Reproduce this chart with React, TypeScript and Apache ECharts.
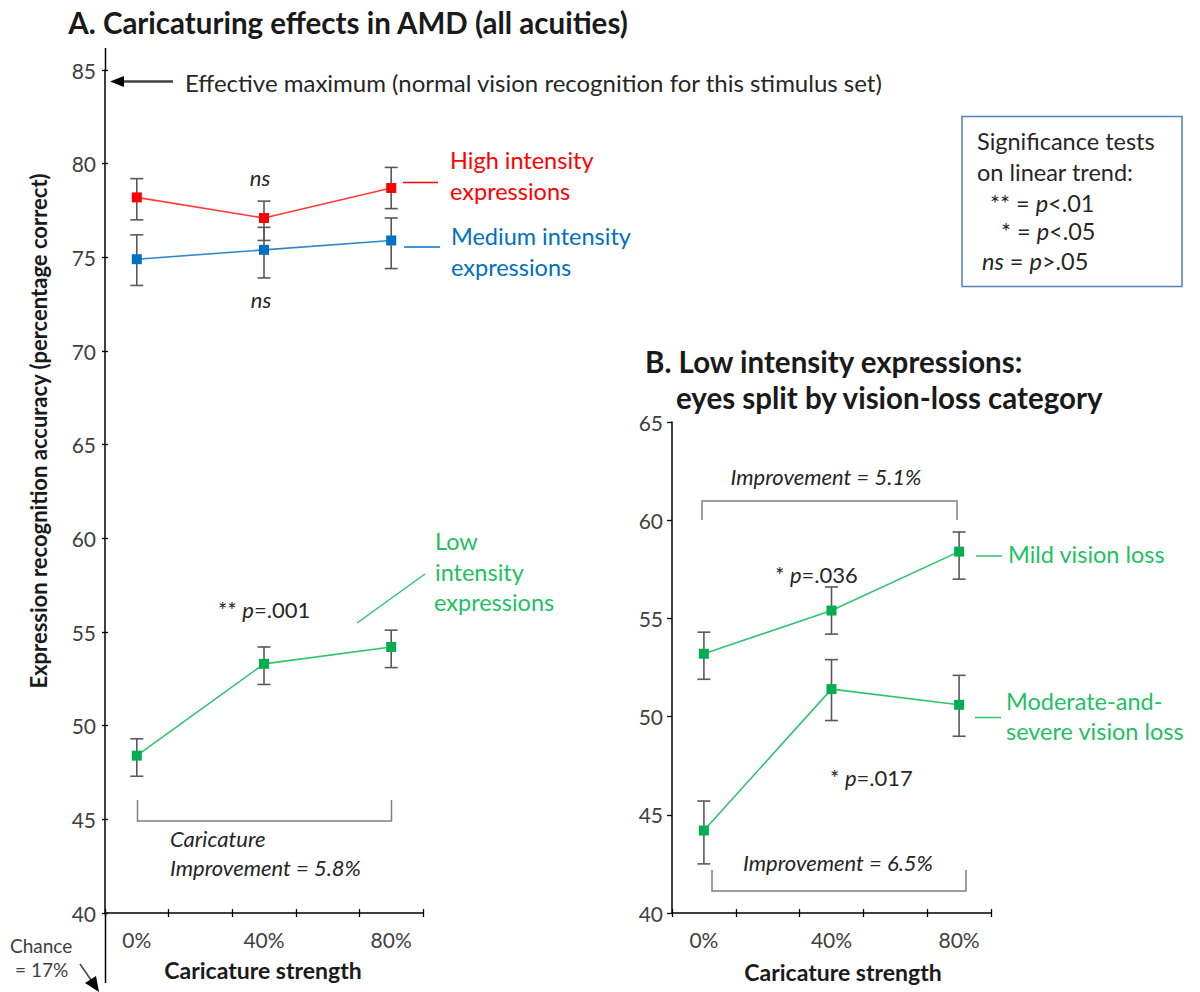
import React, { useEffect, useRef } from "react";
import * as echarts from "echarts";

// ---------- data ----------
const strengths = [0, 40, 80]; // caricature strength (%)
const xTickValues = [-10, 10, 30, 50, 70, 90];
const xLabelValues = [0, 40, 80];

// Panel A
const highMean = [78.2, 77.1, 78.7];
const highLower = [77.0, 75.9, 77.6];
const highUpper = [79.2, 78.0, 79.8];
const medMean = [74.9, 75.4, 75.9];
const medLower = [73.5, 73.9, 74.4];
const medUpper = [76.2, 76.6, 77.1];
const lowMean = [48.4, 53.3, 54.2];
const lowLower = [47.3, 52.2, 53.1];
const lowUpper = [49.3, 54.2, 55.1];

// Panel B
const mildMean = [53.2, 55.4, 58.4];
const mildLower = [51.9, 54.2, 57.0];
const mildUpper = [54.3, 56.6, 59.4];
const modMean = [44.2, 51.4, 50.6];
const modLower = [42.5, 49.8, 49.0];
const modUpper = [45.7, 52.9, 52.1];

const yA = { min: 40, max: 85, interval: 5 };
const yB = { min: 40, max: 65, interval: 5 };

const FONT = "Lato, 'Open Sans', sans-serif";
const RED = "#ff0000";
const BLUE = "#0070c0";
const GREEN = "#00b050";
const GREEN_LINE = "#2ec46e";
const GREEN_TEXT = "#1fc063";
const GREY = "#7f7f7f";
const ERR = "#595959";
const TXT = "#262626";

const S_TICK = 21;
const S_NOTE = 22;
const S_BODY = 23.5;
const S_TITLE = 29.5;
const S_AXNAME = 23;

function lineSeries(name: string, mean: number[], color: string, lineColor: string, ai: number) {
  return {
    name,
    type: "line",
    xAxisIndex: ai,
    yAxisIndex: ai,
    data: strengths.map((s, i) => [s, mean[i]]),
    symbol: "rect",
    symbolSize: 10,
    itemStyle: { color },
    lineStyle: { color: lineColor, width: 1.6 },
    z: 5,
    silent: true,
  };
}

function errSeries(name: string, lower: number[], upper: number[], ai: number) {
  return {
    name: name + " error",
    type: "custom",
    xAxisIndex: ai,
    yAxisIndex: ai,
    data: strengths.map((s, i) => [s, lower[i], upper[i]]),
    encode: { x: 0, y: [1, 2] },
    z: 3,
    silent: true,
    renderItem: (params: any, api: any) => {
      const x = api.value(0);
      const top = api.coord([x, api.value(2)]);
      const bot = api.coord([x, api.value(1)]);
      const hw = 6.5;
      const st = { stroke: ERR, lineWidth: 1.6 };
      return {
        type: "group",
        children: [
          { type: "line", shape: { x1: top[0], y1: top[1], x2: bot[0], y2: bot[1] }, style: st },
          { type: "line", shape: { x1: top[0] - hw, y1: top[1], x2: top[0] + hw, y2: top[1] }, style: st },
          { type: "line", shape: { x1: bot[0] - hw, y1: bot[1], x2: bot[0] + hw, y2: bot[1] }, style: st },
        ],
      };
    },
  };
}

function T(text: string, x: number, y: number, o: any = {}) {
  const size = o.size || S_NOTE;
  return {
    type: "text",
    x,
    y,
    rotation: o.rotation || 0,
    silent: true,
    style: {
      text,
      fill: o.fill || TXT,
      fontSize: size,
      fontFamily: FONT,
      fontWeight: o.weight || "normal",
      fontStyle: o.italic ? "italic" : "normal",
      align: o.align || "left",
      verticalAlign: "middle",
      rich: o.rich ? { i: { fontStyle: "italic", fontFamily: FONT, fontSize: size, fill: o.fill || TXT } } : undefined,
    },
  };
}

function L(x1: number, y1: number, x2: number, y2: number, stroke: string, lw = 1.5) {
  return { type: "line", silent: true, shape: { x1, y1, x2, y2 }, style: { stroke, lineWidth: lw } };
}

function PL(points: number[][], stroke: string, lw = 1.5) {
  return { type: "polyline", silent: true, shape: { points }, style: { stroke, lineWidth: lw, fill: null } };
}

export default function App() {
  const ref = useRef<HTMLDivElement>(null);
  useEffect(() => {
    if (!ref.current) return;
    const chart = echarts.init(ref.current, null, { renderer: "svg" });

    const xAxisBase = (gridIndex: number) => ({
      type: "value",
      gridIndex,
      position: "bottom",
      min: -10,
      max: 90,
      axisLine: { show: true, onZero: false, lineStyle: { color: "#000", width: 1.5 } },
      axisTick: { show: true, customValues: xTickValues, length: 4, lineStyle: { color: "#000", width: 1.3 } },
      axisLabel: {
        show: true,
        customValues: xLabelValues,
        formatter: (v: number) => v + "%",
        fontSize: S_TICK,
        fontFamily: FONT,
        color: "#404040",
        margin: 16,
      },
      splitLine: { show: false },
    });
    const xAxisInner = (gridIndex: number) => ({
      type: "value",
      gridIndex,
      position: "bottom",
      min: -10,
      max: 90,
      axisLine: { show: false, onZero: false },
      axisTick: { show: true, inside: true, customValues: xTickValues, length: 4, lineStyle: { color: "#000", width: 1.3 } },
      axisLabel: { show: false },
      splitLine: { show: false },
    });
    const yAxisBase = (gridIndex: number, r: any, tickLen: number) => ({
      type: "value",
      gridIndex,
      position: "left",
      min: r.min,
      max: r.max,
      interval: r.interval,
      axisLine: { show: true, onZero: false, lineStyle: { color: "#000", width: 1.5 } },
      axisTick: { show: true, length: tickLen, lineStyle: { color: "#000", width: 1.3 } },
      axisLabel: { fontSize: S_TICK, fontFamily: FONT, color: "#404040", margin: 9 },
      splitLine: { show: false },
    });

    const option: any = {
      animation: false,
      backgroundColor: "#fff",
      grid: [
        { left: 105, top: 70, right: 777, bottom: 79 },
        { left: 672, top: 422, right: 209, bottom: 79 },
      ],
      xAxis: [xAxisBase(0), xAxisBase(1), xAxisInner(0), xAxisInner(1)],
      yAxis: [
        yAxisBase(0, yA, 3),
        yAxisBase(1, yB, 5),
        {
          type: "value",
          gridIndex: 0,
          position: "left",
          min: yA.min,
          max: yA.max,
          interval: yA.interval,
          axisLine: { show: false, onZero: false },
          axisTick: { show: true, inside: true, length: 3, lineStyle: { color: "#000", width: 1.3 } },
          axisLabel: { show: false },
          splitLine: { show: false },
        },
      ],
      series: [
        errSeries("High intensity", highLower, highUpper, 0),
        errSeries("Medium intensity", medLower, medUpper, 0),
        errSeries("Low intensity", lowLower, lowUpper, 0),
        errSeries("Mild vision loss", mildLower, mildUpper, 1),
        errSeries("Moderate-and-severe vision loss", modLower, modUpper, 1),
        lineSeries("High intensity", highMean, RED, "#ff3b3b", 0),
        lineSeries("Medium intensity", medMean, BLUE, "#2f86cf", 0),
        lineSeries("Low intensity", lowMean, GREEN, GREEN_LINE, 0),
        lineSeries("Mild vision loss", mildMean, GREEN, GREEN_LINE, 1),
        lineSeries("Moderate-and-severe vision loss", modMean, GREEN, GREEN_LINE, 1),
      ],
      graphic: [
        // axis extensions (panel A)
        L(105.5, 48, 105.5, 70, "#000", 1.5),
        L(105.5, 913, 105.5, 983, "#000", 1.5),
        // Titles
        T("A. Caricaturing effects in AMD (all acuities)", 348, 22, { size: S_TITLE, weight: "bold", align: "center", fill: "#1a1a1a" }),
        T("B. Low intensity expressions:", 645, 361, { size: S_TITLE, weight: "bold", fill: "#1a1a1a" }),
        T("eyes split by vision-loss category", 676, 397, { size: S_TITLE, weight: "bold", fill: "#1a1a1a" }),
        // Y axis name panel A
        T("Expression recognition accuracy (percentage correct)", 38, 431, {
          size: 22,
          weight: "bold",
          align: "center",
          rotation: Math.PI / 2,
          fill: "#1a1a1a",
        }),
        // X axis names
        T("Caricature strength", 263, 970, { size: S_AXNAME, weight: "bold", align: "center", fill: "#1a1a1a" }),
        T("Caricature strength", 843, 972, { size: S_AXNAME, weight: "bold", align: "center", fill: "#1a1a1a" }),
        // Effective maximum arrow
        L(120, 81.5, 173, 81.5, "#404040", 2.5),
        { type: "polygon", silent: true, shape: { points: [[110, 81.5], [124, 76], [124, 87]] }, style: { fill: "#000" } },
        T("Effective maximum (normal vision recognition for this stimulus set)", 185, 82, { size: 24 }),
        // Chance
        T("Chance", 10, 945, { size: 19, fill: "#404040" }),
        T("= 17%", 15, 969, { size: 19, fill: "#404040" }),
        L(80, 964, 91, 980, "#404040", 1.5),
        { type: "polygon", silent: true, shape: { points: [[99, 992], [85, 983], [96, 976]] }, style: { fill: "#000" } },
        // ns labels
        T("ns", 260, 177, { size: S_NOTE, italic: true, align: "center" }),
        T("ns", 261, 299, { size: S_NOTE, italic: true, align: "center" }),
        // High / Medium labels
        L(403, 182.5, 438, 182.5, RED, 1.5),
        T("High intensity", 450, 160, { size: S_BODY, fill: RED }),
        T("expressions", 450, 191, { size: S_BODY, fill: RED }),
        L(404, 247, 440, 247, BLUE, 1.5),
        T("Medium intensity", 451, 236, { size: S_BODY, fill: BLUE }),
        T("expressions", 451, 267, { size: S_BODY, fill: BLUE }),
        // Low labels
        L(357, 623, 425, 574, GREEN_LINE, 1.5),
        T("Low", 435, 541, { size: S_BODY, fill: GREEN_TEXT }),
        T("intensity", 435, 572, { size: S_BODY, fill: GREEN_TEXT }),
        T("expressions", 434, 602, { size: S_BODY, fill: GREEN_TEXT }),
        T("** {i|p}=.001", 218, 609, { size: S_NOTE, rich: true }),
        // Bracket panel A
        PL([[137.5, 800], [137.5, 821], [391.5, 821], [391.5, 800]], GREY, 1.5),
        T("Caricature", 170, 838, { size: S_NOTE, italic: true }),
        T("Improvement = 5.8%", 170, 867, { size: S_NOTE, italic: true }),
        // Legend box
        { type: "rect", silent: true, shape: { x: 962, y: 116.5, width: 220, height: 170 }, style: { fill: "#fff", stroke: "#4f81bd", lineWidth: 1.5 } },
        T("Significance tests", 977, 141, { size: S_BODY }),
        T("on linear trend:", 977, 172, { size: S_BODY }),
        T("** = {i|p}<.01", 990, 203, { size: S_BODY, rich: true }),
        T("* = {i|p}<.05", 1001, 231, { size: S_BODY, rich: true }),
        T("{i|ns} = {i|p}>.05", 982, 261, { size: S_BODY, rich: true }),
        // Panel B annotations
        PL([[702, 520], [702, 501], [957, 501], [957, 520]], GREY, 1.5),
        T("Improvement = 5.1%", 826, 476, { size: S_NOTE, italic: true, align: "center" }),
        T("* {i|p}=.036", 775, 574, { size: S_NOTE, rich: true }),
        L(976, 556, 1002, 556, GREEN_LINE, 1.5),
        T("Mild vision loss", 1008, 554, { size: S_BODY, fill: GREEN_TEXT }),
        L(975, 717.5, 1001, 717.5, GREEN_LINE, 1.5),
        T("Moderate-and-", 1006, 701, { size: S_BODY, fill: GREEN_TEXT }),
        T("severe vision loss", 1006, 731, { size: S_BODY, fill: GREEN_TEXT }),
        T("* {i|p}=.017", 830, 777, { size: S_NOTE, rich: true }),
        T("Improvement = 6.5%", 838, 862, { size: S_NOTE, italic: true, align: "center" }),
        PL([[712, 870], [712, 891], [966, 891], [966, 870]], GREY, 1.5),
      ],
    };
    chart.setOption(option);
    return () => chart.dispose();
  }, []);
  return <div ref={ref} style={{ position: "absolute", left: 0, top: 0, width: 1200, height: 992 }} />;
}
